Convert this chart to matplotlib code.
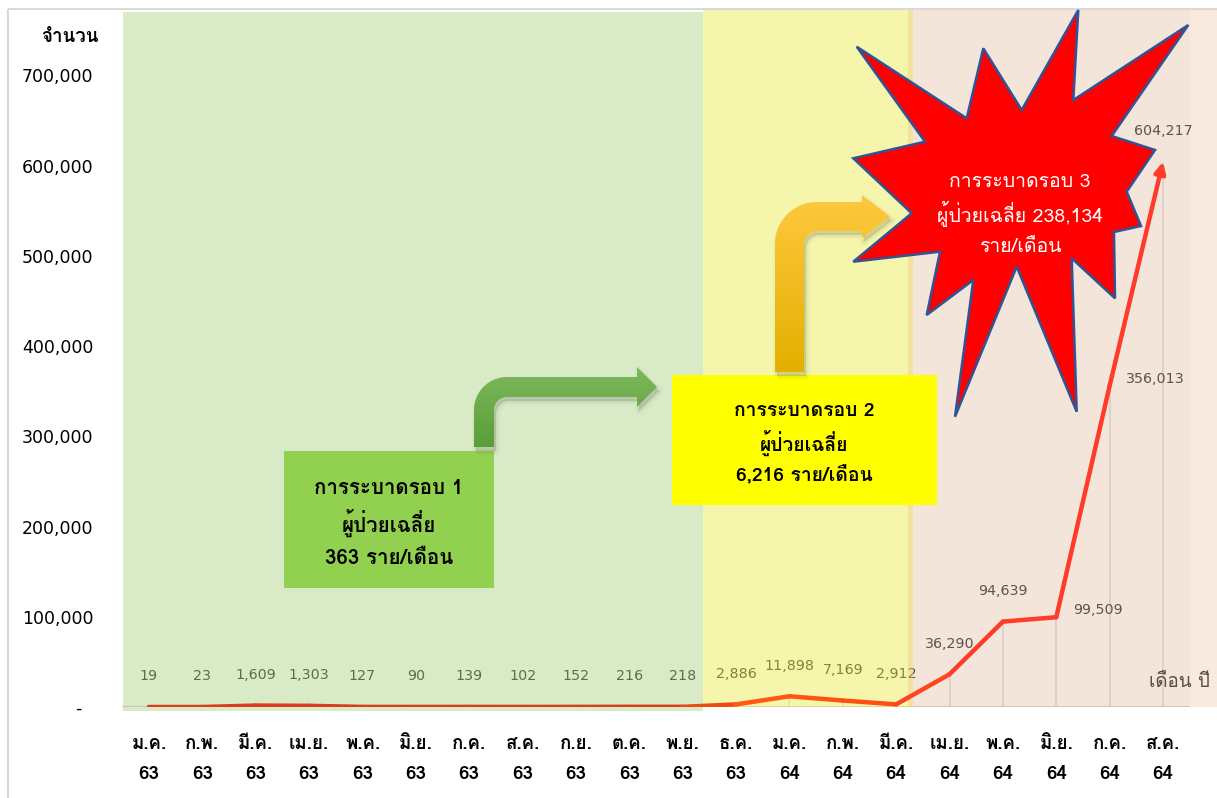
import numpy as np
import matplotlib
matplotlib.use("Agg")
import matplotlib.pyplot as plt
from matplotlib.patches import Rectangle, Polygon, PathPatch, FancyArrowPatch
from matplotlib.path import Path
from matplotlib.transforms import Affine2D
from matplotlib.colors import LinearSegmentedColormap
from matplotlib.collections import LineCollection

# Thai text in Loma, plain numbers in DejaVu
plt.rcParams['font.family'] = ['Loma', 'DejaVu Sans']
NUM = ['DejaVu Sans', 'Loma']

# monthly new cases
months = ['ม.ค.', 'ก.พ.', 'มี.ค.', 'เม.ย.', 'พ.ค.', 'มิ.ย.', 'ก.ค.', 'ส.ค.', 'ก.ย.', 'ต.ค.', 'พ.ย.', 'ธ.ค.',
          'ม.ค.', 'ก.พ.', 'มี.ค.', 'เม.ย.', 'พ.ค.', 'มิ.ย.', 'ก.ค.', 'ส.ค.']
years = ['63'] * 12 + ['64'] * 8
cases = [19, 23, 1609, 1303, 127, 90, 139, 102, 152, 216, 218, 2886,
         11898, 7169, 2912, 36290, 94639, 99509, 356013, 604217]
label_side = ['above'] * 17 + ['right', 'right', 'above']
yticks = [0, 100000, 200000, 300000, 400000, 500000, 600000, 700000]

wave_titles = ['การระบาดรอบ 1', 'การระบาดรอบ 2', 'การระบาดรอบ 3']
wave_avg = ['363', '6,216', '238,134']

W, H = 1217, 798
fig = plt.figure(figsize=(W / 100, H / 100), dpi=100)
fig.patch.set_facecolor('white')
ax = fig.add_axes([122.3 / W, (H - 707) / H, (1189.7 - 122.3) / W, (707 - 75.3) / H])
ax.patch.set_alpha(0)
for s in ax.spines.values():
    s.set_visible(False)

# pixel coordinates, origin top-left
px = Affine2D().scale(1 / W, -1 / H).translate(0, 1) + fig.transFigure


def rect(x0, y0, x1, y1, **kw):
    p = Rectangle((x0, y0), x1 - x0, y1 - y0, transform=px, clip_on=False, **kw)
    ax.add_patch(p)
    return p


def bent_arrow(xl, yb, w, yt, ro, xs, head_h, tip_x):
    # vertical shaft going up, rounded corner, horizontal shaft to the right
    cx, cy = xl + ro, yt + ro
    ri = ro - w
    t = np.linspace(np.pi, 1.5 * np.pi, 30)
    outer = np.c_[cx + ro * np.cos(t), cy + ro * np.sin(t)]
    inner = np.c_[cx + ri * np.cos(t[::-1]), cy + ri * np.sin(t[::-1])]
    ym = yt + w / 2
    pts = [(xl, yb), (xl, cy)] + outer.tolist() + [
        (xs, yt), (xs, ym - head_h / 2), (tip_x, ym), (xs, ym + head_h / 2), (xs, yt + w)
    ] + inner.tolist() + [(xl + w, cy), (xl + w, yb)]
    return Path(np.array(pts + [pts[0]]), closed=True)


def fancy_arrow(path, top, bottom, z):
    # soft drop shadow, then gradient body
    for lw, a in [(6, 0.025), (3, 0.04), (0, 0.06)]:
        sh = Path(path.vertices + [2, 4])
        ax.add_patch(PathPatch(sh, transform=px, clip_on=False, fc=(0, 0, 0, a),
                               ec=(0, 0, 0, a), lw=lw, joinstyle='round', zorder=z))
    clip = PathPatch(path, transform=px, fc='none', ec='none', zorder=z + 0.1)
    ax.add_patch(clip)
    x0, y0 = path.vertices.min(axis=0)
    x1, y1 = path.vertices.max(axis=0)
    cmap = LinearSegmentedColormap.from_list('g', [top, bottom])
    im = ax.imshow(np.linspace(0, 1, 256)[:, None], cmap=cmap, extent=(x0, x1, y1, y0),
                   transform=px, aspect='auto', zorder=z + 0.1, interpolation='bilinear')
    im.set_clip_path(clip)


# chart frame
rect(8, 9, 1240, 820, fc='none', ec='#d9d9d9', lw=1.5, zorder=0)

x = np.arange(len(cases))

# data labels and drop lines sit under the translucent period bands
ax.vlines(x, 0, cases, color='#dedede', lw=1.1, zorder=1)
ax.axhline(0, color='#d4d4d4', lw=1.5, zorder=1)
for xi, v, side in zip(x, cases, label_side):
    if side == 'above':
        ax.annotate(f'{v:,}', (xi, v), xytext=(0, 22), textcoords='offset points',
                    ha='center', va='center', fontsize=10.3, color='#404040',
                    family=NUM, zorder=1)
    else:
        ax.annotate(f'{v:,}', (xi, v), xytext=(12, 5), textcoords='offset points',
                    ha='left', va='center', fontsize=10.3, color='#404040',
                    family=NUM, zorder=1)

# period bands
rect(123, 12, 703, 711, fc='#92c65c', alpha=0.35, lw=0, zorder=2)
rect(703, 10, 913, 707, fc='#e8e830', alpha=0.4, lw=0, zorder=2)
rect(908, 10, 1230, 707, fc='#e8a070', alpha=0.22, lw=0, zorder=2)
rect(913, 10, 1190, 707, fc='#000000', alpha=0.02, lw=0, zorder=2)
ax.text(1210, 682, 'เดือน ปี', transform=px, ha='right', va='center', fontsize=13.5,
        color='#5a4e48', zorder=2.5)

# cases line, coloured by period, arrow on the last rise
seg_colors = ['#dc3c1a'] * 10 + ['#ee4a12', '#ff5a10', '#ff5410', '#ff5012', '#ff4420',
                                  '#ff3b2b', '#ff3b2b', '#ff3b2b']
segs = [[(x[i], cases[i]), (x[i + 1], cases[i + 1])] for i in range(len(cases) - 2)]
ax.add_collection(LineCollection(segs, colors=seg_colors, lw=3.2, capstyle='round',
                                 joinstyle='round', zorder=3))
ax.add_patch(FancyArrowPatch((x[-2], cases[-2]), (x[-1], cases[-1]), arrowstyle='-|>',
                             mutation_scale=16, lw=3.2, color='#ff3b2b', shrinkA=0,
                             shrinkB=0, capstyle='round', zorder=3))

# wave 1 box and arrow
rect(284, 451, 494, 588, fc='#92d050', lw=0, zorder=4)
for yy, s in zip([488, 523, 558], [wave_titles[0], 'ผู้ป่วยเฉลี่ย', wave_avg[0] + ' ราย/เดือน']):
    ax.text(389, yy, s, transform=px, ha='center', va='center', fontsize=14.8,
            fontweight='bold', color='black', zorder=6)
fancy_arrow(bent_arrow(474, 447, 20, 377, 33, 637, 40, 657), '#7cb85c', '#5b9e38', 4)

# wave 2 box and arrow
rect(672, 375, 937, 505, fc='#ffff00', lw=0, zorder=4)
for yy, s in zip([411, 443, 475], [wave_titles[1], 'ผู้ป่วยเฉลี่ย', wave_avg[1] + ' ราย/เดือน']):
    ax.text(804, yy, s, transform=px, ha='center', va='center', fontsize=13.9,
            fontweight='bold', color='black', zorder=6)
fancy_arrow(bent_arrow(775, 372, 29, 202, 42, 862, 43, 890), '#ffc83e', '#e3b000', 4)

# wave 3 burst
burst = [(856.7, 46.7), (966.7, 118.3), (983.3, 48.3), (1021.7, 110), (1078.3, 10),
         (1073.3, 100), (1188.3, 25), (1111.7, 136), (1155, 150), (1126.7, 191.7),
         (1141, 226), (1114, 232), (1115, 298.3), (1071.7, 258.3), (1076.7, 411.7),
         (1016.7, 266.7), (955, 416.7), (973.3, 280), (926.7, 315), (940, 251.7),
         (853.3, 261.7), (911.7, 213.3), (853.3, 158.3), (925, 141.7)]
ax.add_patch(Polygon(burst, closed=True, transform=px, clip_on=False, fc='#ff0000',
                     ec='#2f5597', lw=1.8, joinstyle='miter', zorder=5))
for yy, s in zip([182, 214, 247], [wave_titles[2], 'ผู้ป่วยเฉลี่ย ' + wave_avg[2], 'ราย/เดือน']):
    ax.text(1020, yy, s, transform=px, ha='center', va='center', fontsize=14,
            color='white', zorder=6)

ax.text(70, 37, 'จำนวน', transform=px, ha='center', va='center', fontsize=13.5,
        fontweight='bold', color='black')

ax.set_xticks(x, [f'{m}\n{y}' for m, y in zip(months, years)])
ax.set_yticks(yticks, ['-\u2007' if v == 0 else f'{v:,}' for v in yticks])
ax.tick_params(axis='x', length=0, pad=20, labelsize=13.5, labelcolor='black')
ax.tick_params(axis='y', length=0, pad=21, labelsize=12.5, labelcolor='black')
for t in ax.get_xticklabels():
    t.set_linespacing(1.9)
    t.set_fontweight('bold')
for t in ax.get_yticklabels():
    t.set_family(NUM)

ax.set_xlim(-0.5, 19.5)
ax.set_ylim(0, 700000)

fig.savefig('out.png', dpi=100)
